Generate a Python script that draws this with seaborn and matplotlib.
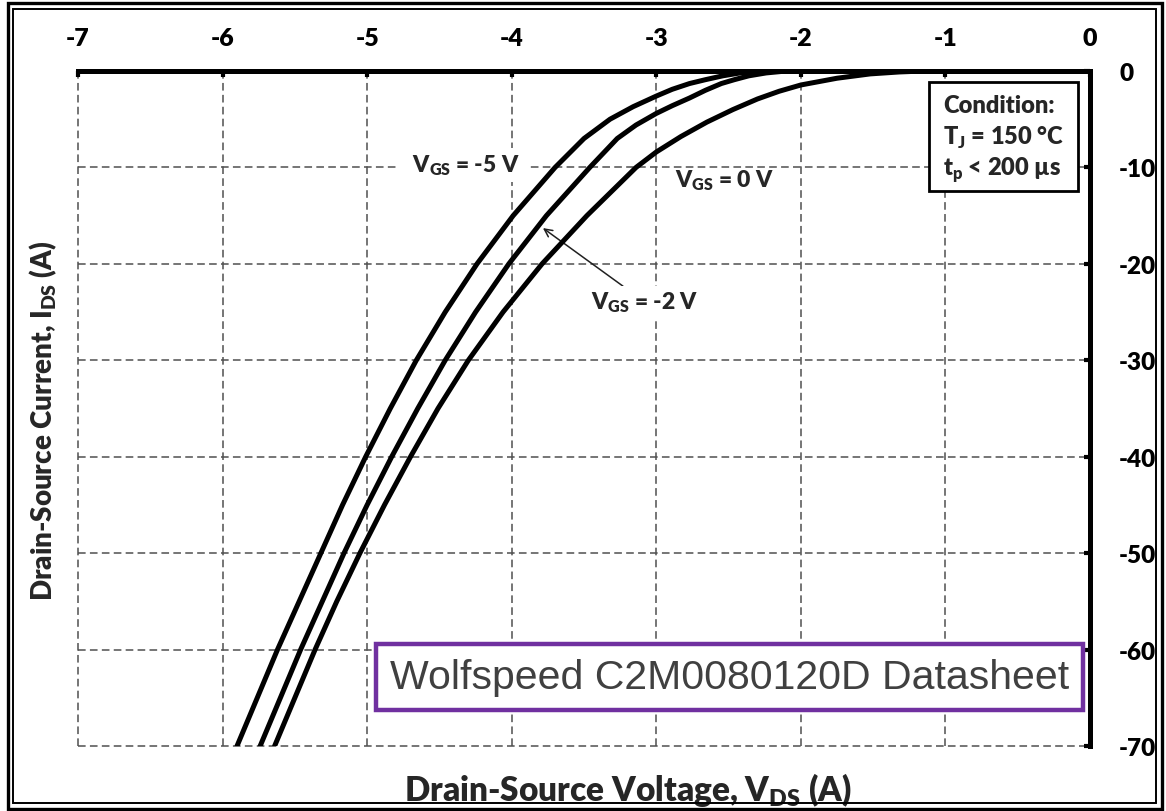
import matplotlib
matplotlib.use("Agg")
import matplotlib.pyplot as plt
from matplotlib.patches import Rectangle
import numpy as np
import pandas as pd
import seaborn as sns

# Third-quadrant (body diode) characteristics, Tj = 150 °C
vds_vgs_m5 = [-2.25, -2.42, -2.54, -2.66, -2.77, -2.89, -3.00, -3.16, -3.32, -3.50,
              -3.70, -3.99, -4.24, -4.46, -4.66, -4.84, -5.01, -5.17, -5.32, -5.47,
              -5.62, -5.76, -5.90]
ids_vgs_m5 = [0.0, -0.2, -0.5, -0.9, -1.3, -1.9, -2.6, -3.7, -5.0, -7.0,
              -10.0, -15.0, -20.0, -25.0, -30.0, -35.0, -40.0, -45.0, -50.0, -55.0,
              -60.0, -65.0, -70.0]

vds_vgs_m2 = [-2.10, -2.24, -2.36, -2.46, -2.55, -2.66, -2.77, -2.89, -3.00, -3.14,
              -3.27, -3.46, -3.76, -4.02, -4.25, -4.46, -4.65, -4.83, -5.00, -5.16,
              -5.31, -5.46, -5.60, -5.74]
ids_vgs_m2 = [0.0, -0.2, -0.5, -0.9, -1.3, -2.0, -2.8, -3.6, -4.4, -5.6,
              -7.0, -10.0, -15.0, -20.0, -25.0, -30.0, -35.0, -40.0, -45.0, -50.0,
              -55.0, -60.0, -65.0, -70.0]

vds_vgs_0 = [-1.15, -1.32, -1.52, -1.75, -2.00, -2.15, -2.30, -2.47, -2.65, -2.83,
             -3.00, -3.14, -3.48, -3.79, -4.06, -4.30, -4.51, -4.70, -4.88, -5.05,
             -5.21, -5.36, -5.50, -5.64]
ids_vgs_0 = [0.0, -0.1, -0.3, -0.75, -1.45, -2.1, -2.9, -4.0, -5.3, -6.8,
             -8.4, -10.0, -15.0, -20.0, -25.0, -30.0, -35.0, -40.0, -45.0, -50.0,
             -55.0, -60.0, -65.0, -70.0]

vgs_levels = ["-5 V", "-2 V", "0 V"]
x_ticks = [-7, -6, -5, -4, -3, -2, -1, 0]
y_ticks = [0, -10, -20, -30, -40, -50, -60, -70]

frames = []
for lvl, vx, iy in zip(vgs_levels,
                       [vds_vgs_m5, vds_vgs_m2, vds_vgs_0],
                       [ids_vgs_m5, ids_vgs_m2, ids_vgs_0]):
    frames.append(pd.DataFrame({"vds": vx, "ids": iy, "vgs": lvl}))
df = pd.concat(frames, ignore_index=True)

sns.set_style("white")
WEIGHT = "heavy"
plt.rcParams["font.family"] = ["Lato", "DejaVu Sans"]
plt.rcParams["font.weight"] = WEIGHT
plt.rcParams["axes.unicode_minus"] = False
plt.rcParams["mathtext.fontset"] = "custom"
plt.rcParams["mathtext.rm"] = "Lato:" + WEIGHT
plt.rcParams["mathtext.bf"] = "Lato:" + WEIGHT

W, H = 1166, 812
fig = plt.figure(figsize=(W / 100, H / 100), dpi=100)
ax = fig.add_axes([78 / W, 1 - 747 / H, (1090 - 78) / W, (747 - 72) / H])

sns.lineplot(data=df, x="vds", y="ids", units="vgs", estimator=None, sort=False,
             color="black", linewidth=3.6, ax=ax, zorder=4, legend=False)

ax.set_xlim(-7, 0)
ax.set_ylim(-70, 0)
ax.set_xticks(x_ticks)
ax.set_yticks(y_ticks)
ax.set_xticklabels([str(t) for t in x_ticks])
ax.set_yticklabels([str(t) for t in y_ticks])
ax.xaxis.tick_top()
ax.yaxis.tick_right()
ax.tick_params(axis="x", direction="in", length=4, width=3, pad=16,
               labelsize=18, colors="black")
ax.tick_params(axis="y", direction="in", length=4, width=3, pad=21,
               labelsize=17.5, colors="black")
for lab in ax.get_xticklabels() + ax.get_yticklabels():
    lab.set_fontweight(WEIGHT)
for lab in ax.get_yticklabels():
    lab.set_horizontalalignment("left")

ax.grid(True, linestyle=(0, (5, 2.8)), color="#505050", linewidth=1.1)
for gl in ax.get_xgridlines() + ax.get_ygridlines():
    gl.set_clip_on(False)
ax.set_axisbelow(True)

for side in ["left", "bottom"]:
    ax.spines[side].set_visible(False)
for side in ["top", "right"]:
    ax.spines[side].set_linewidth(3.6)
    ax.spines[side].set_color("black")
    ax.spines[side].set_zorder(5)

ax.set_xlabel(r"Drain-Source Voltage, V$_\mathregular{DS}$ (A)", fontsize=24,
              fontweight=WEIGHT)
ax.set_ylabel(r"Drain-Source Current, I$_\mathregular{DS}$ (A)", fontsize=20,
              fontweight=WEIGHT, labelpad=14)
ax.xaxis.set_label_coords(0.5435, -0.035)
ax.yaxis.label.set_y(0.483)

# curve labels
ax.text(-4.334, -9.7, r"  V$_\mathregular{GS}$ = -5 V  ", fontsize=16.5, fontweight=WEIGHT,
        ha="center", va="center", zorder=3,
        bbox=dict(boxstyle="square,pad=0.2", fc="white", ec="none"))
ax.text(-2.529, -11.3, r"V$_\mathregular{GS}$ = 0 V", fontsize=16.5, fontweight=WEIGHT,
        ha="center", va="center", zorder=3)
ax.annotate(r"V$_\mathregular{GS}$ = -2 V", xy=(-3.784, -16.29), xytext=(-3.079, -23.96),
            fontsize=16.5, fontweight=WEIGHT, ha="center", va="center", zorder=3,
            bbox=dict(boxstyle="square,pad=0.15", fc="white", ec="none"),
            arrowprops=dict(arrowstyle="->", color="#202020", lw=1.1,
                            shrinkA=0, shrinkB=0, mutation_scale=14))

# test-condition box
ax.add_patch(Rectangle((0.841, 0.8222), 0.988 - 0.841, 0.9837 - 0.8222,
                       transform=ax.transAxes, fc="white", ec="black", lw=2.0,
                       zorder=6, clip_on=False))
for ypos, txt in zip([0.9496, 0.9022, 0.8548],
                     ["Condition:", r"T$_\mathregular{J}$ = 150 °C",
                      r"t$_\mathregular{p}$ < 200 µs"]):
    ax.text(0.8547, ypos, txt, transform=ax.transAxes, fontsize=17,
            fontweight=WEIGHT, ha="left", va="center", zorder=7)

# source tag
fig.text(729.5 / W, 1 - 678 / H, "Wolfspeed C2M0080120D Datasheet",
         fontfamily="Liberation Sans", fontweight="normal", fontsize=29.5,
         color="#404040", ha="center", va="center", zorder=10,
         bbox=dict(boxstyle="square,pad=0.34", fc="white", ec="#7030A0", lw=3.2))

# double frame around the figure
fig.patches.append(Rectangle((8 / W, 1 - 809.5 / H), (1161.5 - 8) / W, (809.5 - 3.5) / H,
                             transform=fig.transFigure, fill=False, ec="black", lw=2.4))
fig.patches.append(Rectangle((13 / W, 1 - 804 / H), (1156 - 13) / W, (804 - 9.5) / H,
                             transform=fig.transFigure, fill=False, ec="black", lw=1.4))

fig.savefig("out.png", dpi=100)
